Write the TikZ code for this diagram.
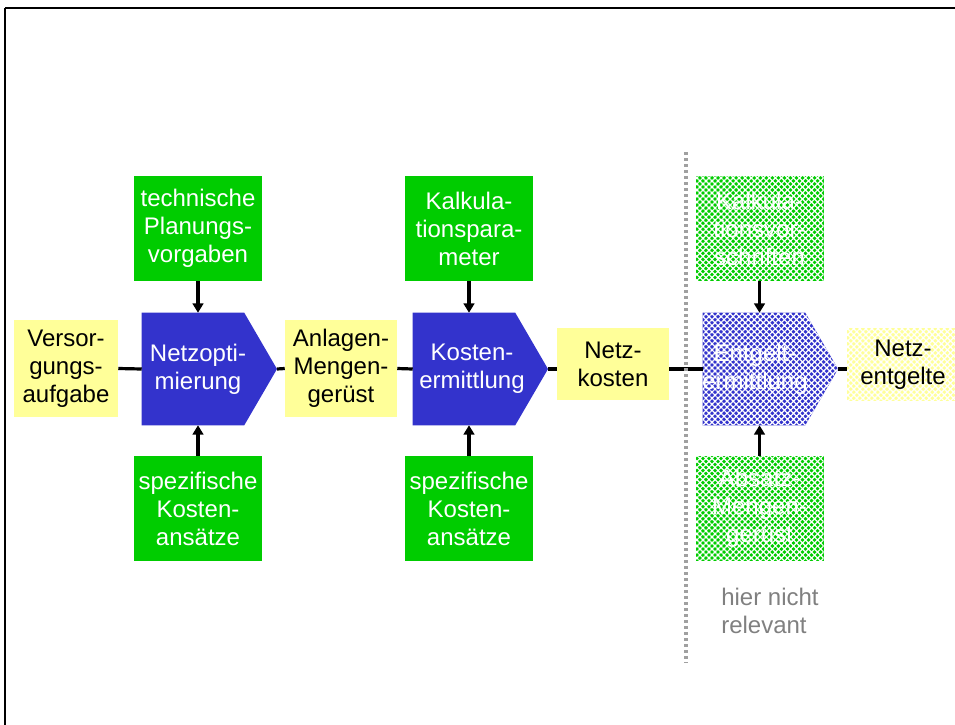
\documentclass[tikz,border=0pt]{standalone}
\usepackage{fontspec}
\setmainfont{Liberation Sans}
\usetikzlibrary{arrows.meta,patterns.meta,calc}
\definecolor{boxgreen}{HTML}{00CC00}
\definecolor{boxblue}{HTML}{3333CC}
\definecolor{boxyellow}{HTML}{FFFF99}
\definecolor{dotgray}{HTML}{A0A0A0}
\definecolor{notegray}{HTML}{808080}
\tikzset{
  every node/.style={font=\fontsize{18}{21}\selectfont, align=center, inner sep=0pt},
  inbox/.style={fill=boxgreen, text=white, minimum width=96pt, minimum height=78.75pt},
  databox/.style={fill=boxyellow, text=black},
  stepbody/.style={minimum width=76.5pt, minimum height=84pt},
  steptext/.style={text=white},
  hatched/.style={postaction={pattern={Hatch[distance=3.2pt,line width=0.9pt,angle=45]}, pattern color=white}},
  flowline/.style={line width=2.4pt},
  feed/.style={line width=2.4pt, -{Triangle[width=8pt,length=7pt]}},
  border/.style={line width=1.6pt},
}
\newcommand{\chevron}[2]{% body node, tip coordinate
  \fill[boxblue] (#1.north west) -- (#1.north east) -- (#2) -- (#1.south east) -- (#1.south west) -- cycle;}
\begin{document}
\begin{tikzpicture}[x=0.75pt,y=-0.75pt]
\useasboundingbox (0,0) rectangle (955,724);
\clip (0,0) rectangle (955,724);

% outer frame (top and left edges)
\draw[border] (5,8) -- (957,8);
\draw[border] (5,8) -- (5,726);

% process steps
\node[stepbody] (n1) at (193,369) {};
\coordinate (n1tip) at (277,369);
\node[stepbody] (n2) at (464,369) {};
\coordinate (n2tip) at (548,369);
\node[stepbody] (n3) at (754,369) {};
\coordinate (n3tip) at (838,369);
\chevron{n1}{n1tip}
\chevron{n2}{n2tip}
\fill[boxblue, hatched] (n3.north west) -- (n3.north east) -- (n3tip) -- (n3.south east) -- (n3.south west) -- cycle;
\node[steptext] (n1t) at (198,369) {Netzopti-\\mierung};
\node[steptext] (n2t) at (472,369) {Kosten-\\ermittlung};
\node[steptext] (n3t) at (755,369) {Entgelt-\\ermittlung};

% data objects
\node[databox, minimum width=78pt, minimum height=72.75pt] (d0) at (66,368.5) {Versor-\\gungs-\\aufgabe};
\node[databox, minimum width=84pt, minimum height=72.75pt] (d1) at (341,368.5) {Anlagen-\\Mengen-\\gerüst};
\node[databox, minimum width=84pt, minimum height=54pt] (d2) at (613,364) {Netz-\\kosten};
\node[databox, minimum width=84pt, minimum height=54.75pt, hatched] (d3) at (903,364.5) {\phantom{N}};
\node (d3t) at (903,364.5) {Netz-\\entgelte};

% inputs
\node[inbox] (i1t) at (198,228.5) {technische\\Planungs-\\vorgaben};
\node[inbox] (i1b) at (198,508.5) {spezifische\\Kosten-\\ansätze};
\node[inbox] (i2t) at (469,228.5) {Kalkula-\\tionspara-\\meter};
\node[inbox] (i2b) at (469,508.5) {spezifische\\Kosten-\\ansätze};
\node[inbox, hatched] (i3t) at (759.5,228.5) {\phantom{K}};
\node[text=white] (i3tt) at (759.5,228.5) {Kalkula-\\tionsvor-\\schriften};
\node[inbox, hatched] (i3b) at (759.5,508.5) {\phantom{A}};
\node[text=white] (i3bt) at (759.5,508.5) {Absatz-\\Mengen-\\gerüst};

% main flow
\draw[flowline] (d0.east) -- (n1.west);
\draw[flowline] (n1tip) -- (d1.west);
\draw[flowline] (d1.east) -- (n2.west);
\draw[flowline] (n2tip) -- (d2.west |- n2tip);
\draw[flowline] (d2.east |- n2tip) -- (n3.west);
\draw[flowline] (n3tip) -- (d3.west |- n3tip);

% feeding arrows
\draw[feed] (i1t.south) -- (i1t.south |- n1.north);
\draw[feed] (i1b.north) -- (i1b.north |- n1.south);
\draw[feed] (i2t.south) -- (i2t.south |- n2.north);
\draw[feed] (i2b.north) -- (i2b.north |- n2.south);
\draw[feed] (i3t.south) -- (i3t.south |- n3.north);
\draw[feed] (i3b.north) -- (i3b.north |- n3.south);

% separator and note
\coordinate (sepTop) at (686,152);
\coordinate (sepBot) at (686,663);
\draw[dotgray, line width=2.6pt, dash pattern=on 2.4pt off 2.1pt] (sepTop) -- (sepBot);
\node[text=notegray, align=left, anchor=north west] (note) at (721,588) {hier nicht\\relevant};
\end{tikzpicture}
\end{document}
